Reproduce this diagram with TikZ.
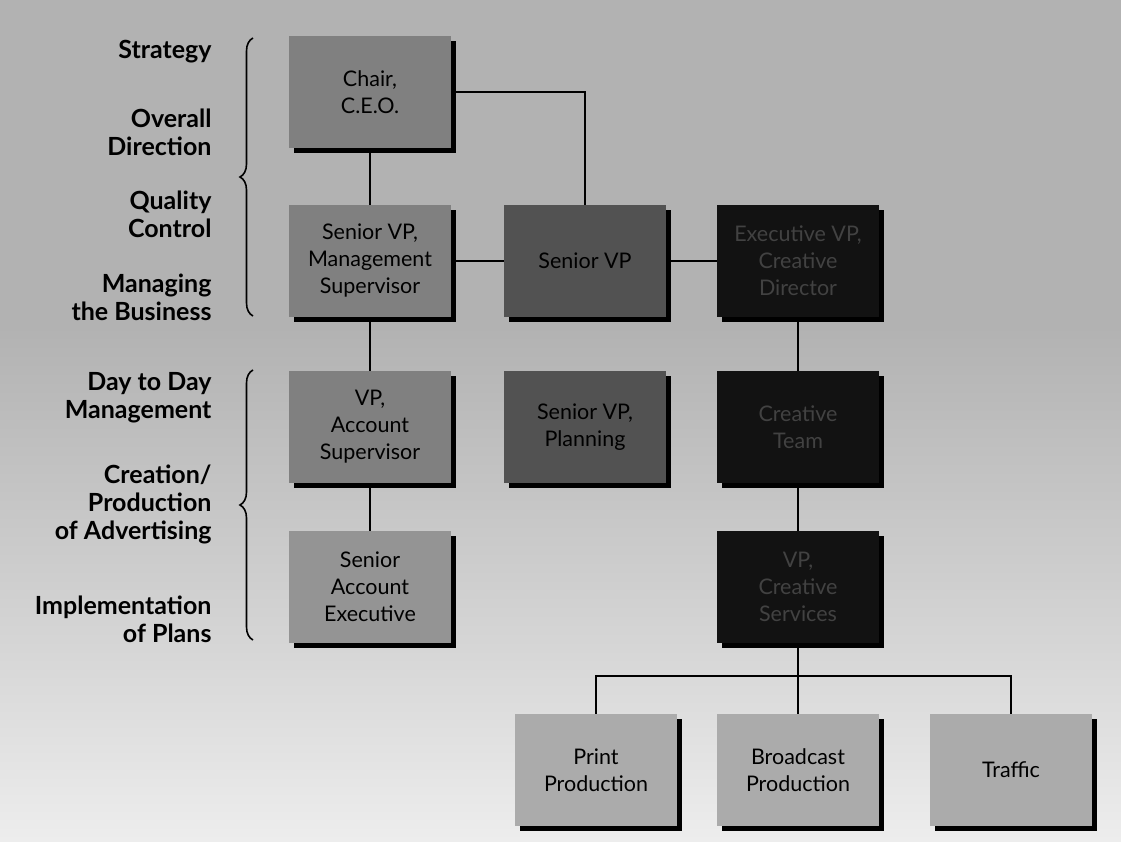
\documentclass[tikz,border=0pt]{standalone}
\usepackage{fontspec}
\setmainfont{Lato}
\usetikzlibrary{shadows,decorations.pathreplacing}
\tikzset{
  orgbox/.style={rectangle, minimum width=162pt, minimum height=112pt, inner sep=2pt,
    align=center, font=\fontsize{21.5}{27}\selectfont,
    drop shadow={shadow xshift=5pt, shadow yshift=-5pt, fill=black, opacity=1}},
  greybox/.style={orgbox, fill=black!50},
  darkbox/.style={orgbox, fill=black!68},
  blackbox/.style={orgbox, fill=black!93, text=black!74},
  palebox/.style={orgbox, fill=black!42},
  lightbox/.style={orgbox, fill=black!33},
  conn/.style={line width=2pt, black},
  lbl/.style={anchor=east, align=right, font=\bfseries\fontsize{25}{28}\selectfont},
  bracestyle/.style={line width=1.6pt, decorate, decoration={brace, amplitude=13pt}}
}
\begin{document}
\begin{tikzpicture}[x=1pt,y=-1pt]
\useasboundingbox (0,0) rectangle (1121,842);
\fill[black!12] (0,0) rectangle (1121,842);
\fill[black!30] (0,0) rectangle (1121,330);
\shade[top color=black!30, bottom color=black!16] (0,330) rectangle (1121,650);
\shade[top color=black!16, bottom color=black!7] (0,650) rectangle (1121,842);

% labels
\node[lbl] (l1) at (215,52) {Strategy};
\node[lbl] (l2) at (215,132) {Overall\\Direction};
\node[lbl] (l3) at (215,214) {Quality\\Control};
\node[lbl] (l4) at (215,297) {Managing\\the Business};
\node[lbl] (l5) at (215,398) {Day to Day\\Management};
\node[lbl] (l6) at (215,504) {Creation/\\Production\\of Advertising};
\node[lbl] (l7) at (215,619) {Implementation\\of Plans};

\coordinate (b1top) at (253,38);
\coordinate (b1bot) at (253,316);
\coordinate (b2top) at (253,370);
\coordinate (b2bot) at (253,640);
\draw[bracestyle] (b1bot) -- (b1top);
\draw[bracestyle] (b2bot) -- (b2top);

% boxes
\node[greybox] (chair) at (370,92) {Chair,\\C.E.O.};
\node[greybox] (svpms) at (370,261) {Senior VP,\\Management\\Supervisor};
\node[darkbox] (svp) at (585,261) {Senior VP};
\node[blackbox] (evp) at (798,261) {Executive VP,\\Creative\\Director};
\node[greybox] (vpas) at (370,427) {VP,\\Account\\Supervisor};
\node[darkbox] (svpp) at (585,427) {Senior VP,\\Planning};
\node[blackbox] (ct) at (798,427) {Creative\\Team};
\node[palebox] (sae) at (370,587) {Senior\\Account\\Executive};
\node[blackbox] (vpcs) at (798,587) {VP,\\Creative\\Services};
\node[lightbox] (print) at (596,770) {Print\\Production};
\node[lightbox] (broad) at (798,770) {Broadcast\\Production};
\node[lightbox] (traffic) at (1011,770) {Traffic};

% connectors
\coordinate (bus) at (798,676);
\draw[conn] (chair.south) -- (svpms.north);
\draw[conn] (chair.east) -| (svp.north);
\draw[conn] (svpms.east) -- (svp.west);
\draw[conn] (svp.east) -- (evp.west);
\draw[conn] (svpms.south) -- (vpas.north);
\draw[conn] (vpas.south) -- (sae.north);
\draw[conn] (evp.south) -- (ct.north);
\draw[conn] (ct.south) -- (vpcs.north);
\draw[conn] (vpcs.south) -- (bus);
\draw[conn] (print.north) |- (bus) -| (traffic.north);
\draw[conn] (bus) -- (broad.north);
\end{tikzpicture}
\end{document}
